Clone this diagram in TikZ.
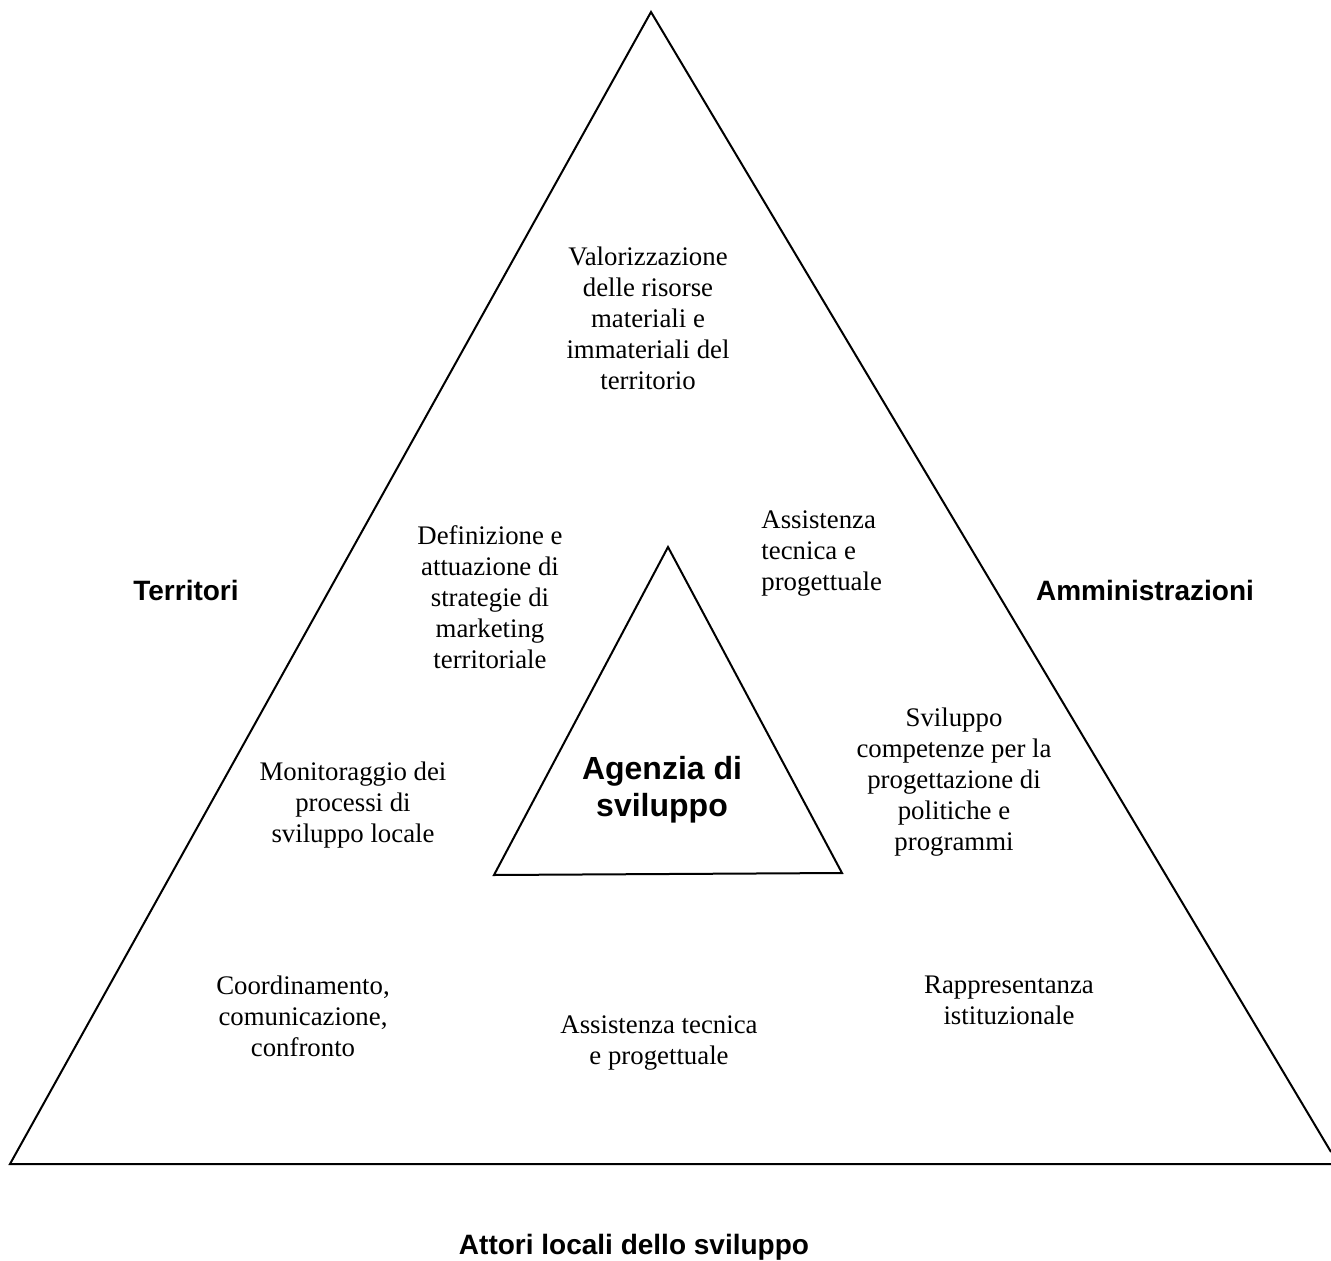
\documentclass[tikz,border=0pt]{standalone}
\usepackage{fontspec}
\setmainfont{Liberation Serif}
\newfontfamily\arialfont{Liberation Sans}
\usetikzlibrary{positioning, calc}

\begin{document}
\begin{tikzpicture}[
        x=0.5pt, y=-0.5pt,
        side/.style={line width=1pt, line join=miter},
        task/.style={align=center, inner sep=0pt, font=\fontsize{13.4}{15.5}\selectfont},
        actor/.style={inner sep=0pt, font=\arialfont\bfseries\fontsize{14}{16}\selectfont},
        agency/.style={align=center, inner sep=0pt, font=\arialfont\bfseries\fontsize{16}{18.5}\selectfont}
    ]
    \useasboundingbox (0,0) rectangle (1331,1261);

    % Outer triangle
    \coordinate (top) at (651, 12);
    \coordinate (bl)  at (10, 1164);
    \coordinate (br)  at (1331, 1164);
    \coordinate (rend) at (1331, 1152);
    \draw[side] (rend) -- (top) -- (bl) -- (br);

    % Inner triangle
    \coordinate (itop) at (668, 547);
    \coordinate (ibl)  at (494, 875);
    \coordinate (ibr)  at (842, 873);
    \draw[side] (itop) -- (ibl) -- (ibr) -- cycle;

    \node[agency] (agenzia) at (662, 790) {Agenzia di\\sviluppo};

    % Actors
    \node[actor] (territori) at (186, 590) {Territori};
    \node[actor] (amministrazioni) at (1145, 590) {Amministrazioni};
    \node[actor, anchor=base] (attori) at (634, 1254) {Attori locali dello sviluppo};

    % Functions
    \node[task] (valorizz) at (648, 318) {Valorizzazione\\delle risorse\\materiali e\\immateriali del\\territorio};
    \node[task] (definiz) at (490, 597) {Definizione e\\attuazione di\\strategie di\\marketing\\territoriale};
    \node[task, align=left, anchor=west] (assist1) at (761, 554) {Assistenza\\tecnica e\\progettuale};
    \node[task] (svil) at (954, 782) {Sviluppo\\competenze per la\\progettazione di\\politiche e\\programmi};
    \node[task] (monit) at (353, 805) {Monitoraggio dei\\processi di\\sviluppo locale};
    \node[task] (coord) at (303, 1016) {Coordinamento,\\comunicazione,\\confronto};
    \node[task] (assist2) at (659, 1043) {Assistenza tecnica\\e progettuale};
    \node[task] (rappr) at (1009, 1000) {Rappresentanza\\istituzionale};

\end{tikzpicture}
\end{document}
